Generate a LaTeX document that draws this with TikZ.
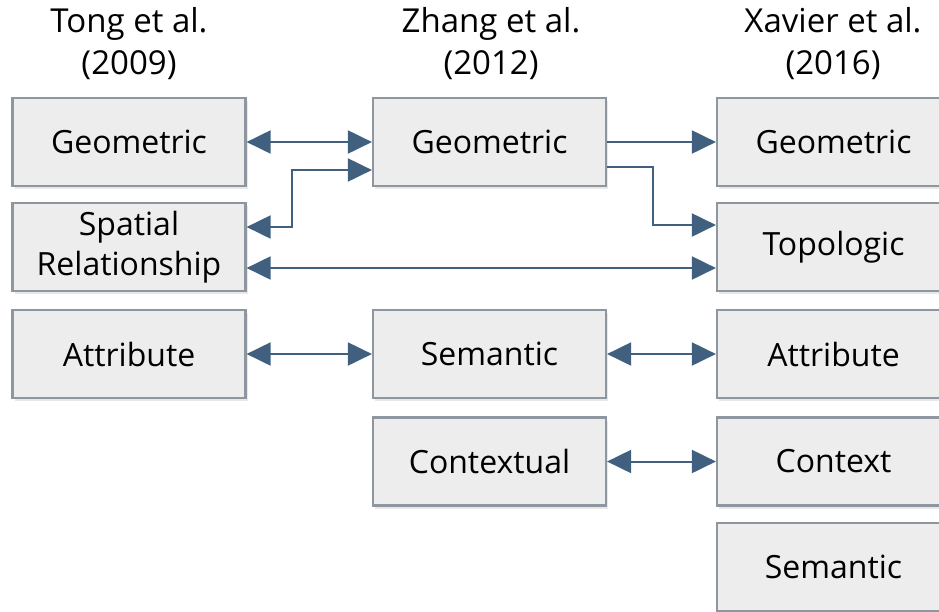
\documentclass[tikz,border=0pt]{standalone}
\usepackage{fontspec}
\setmainfont{Open Sans}
\usetikzlibrary{arrows.meta,shadows}
\definecolor{boxfill}{HTML}{EDEDED}
\definecolor{boxline}{HTML}{8E979F}
\definecolor{arr}{HTML}{415F7E}
\begin{document}
\begin{tikzpicture}[x=1pt,y=-1pt,
  box/.style={draw=boxline,line width=2.2pt,fill=boxfill,minimum width=233pt,minimum height=88pt,
    inner sep=0pt,align=center,font=\fontsize{32}{40}\selectfont,
    drop shadow={opacity=0.18,shadow xshift=2pt,shadow yshift=-3pt}},
  hdr/.style={align=center,font=\fontsize{33}{42}\selectfont},
  one/.style={draw=arr,line width=2pt,-{Triangle[length=24pt,width=23pt]}},
  bi/.style={draw=arr,line width=2pt,{Triangle[length=24pt,width=23pt]}-{Triangle[length=24pt,width=23pt]}}]
\useasboundingbox (0,0) rectangle (939,611);
\node[hdr] (h1) at (129,44) {Tong et al.\\(2009)};
\node[hdr] (h2) at (491,44) {Zhang et al.\\(2012)};
\node[hdr] (h3) at (833,44) {Xavier et al.\\(2016)};
% column 1
\node[box] (g1) at (129,142) {Geometric};
\node[box] (sp) at (129,247) {Spatial\\Relationship};
\node[box] (a1) at (129,354) {Attribute};
% column 2
\node[box] (g2) at (489.5,142) {Geometric};
\node[box] (s2) at (489.5,354) {Semantic};
\node[box] (c2) at (489.5,461.5) {Contextual};
% column 3
\node[box] (g3) at (833.5,142) {Geometric};
\node[box] (t3) at (833.5,247) {Topologic};
\node[box] (a3) at (833.5,354) {Attribute};
\node[box] (c3) at (833.5,461.5) {Context};
\node[box] (s3) at (833.5,567) {Semantic};
% connectors
\draw[bi] (g1.east) -- (g2.west);
\draw[bi] ([yshift=20pt]sp.east) -- ++(45pt,0) |- ([yshift=-28pt]g2.west);
\draw[bi] ([yshift=-21pt]sp.east) -- ([yshift=-21pt]t3.west);
\draw[one] (g2.east) -- (g3.west);
\draw[one] ([yshift=-25pt]g2.east) -- ++(46pt,0) |- ([yshift=22pt]t3.west);
\draw[bi] (a1.east) -- (s2.west);
\draw[bi] (s2.east) -- (a3.west);
\draw[bi] (c2.east) -- (c3.west);
\end{tikzpicture}
\end{document}
